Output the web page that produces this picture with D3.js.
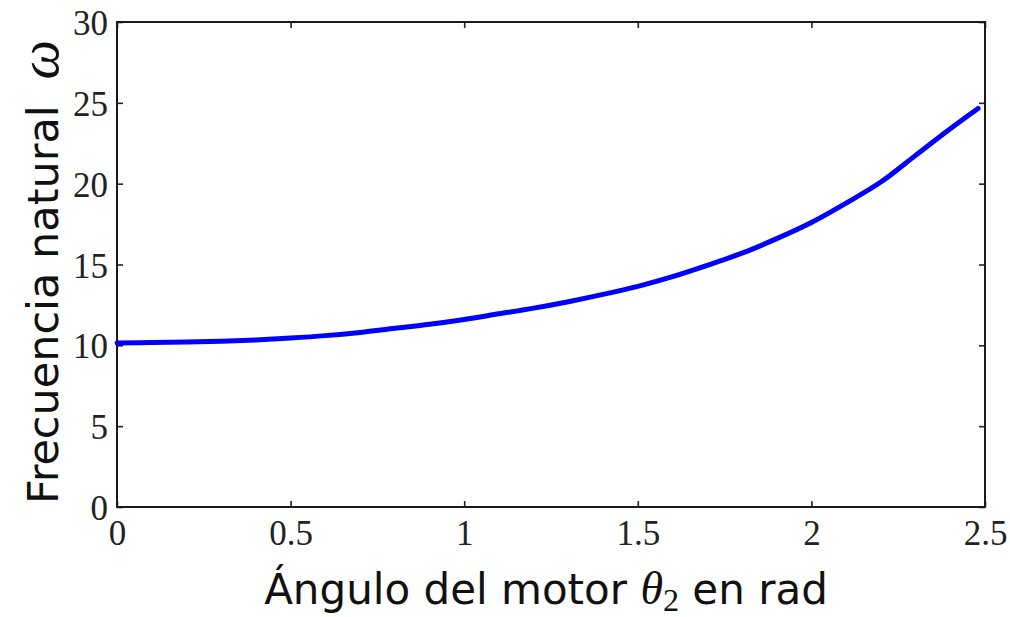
<!DOCTYPE html>
<html>
<head>
<meta charset="utf-8">
<script src="https://cdn.jsdelivr.net/npm/d3@7"></script>
<style>
  html, body { margin: 0; padding: 0; background: #fff; }
  svg { display: block; }
  .tick text { font-family: "Liberation Serif", "DejaVu Serif", serif; fill: #222; }
</style>
</head>
<body>
<svg id="chart" width="1010" height="617"></svg>
<script>
// Motor angle θ2 (rad) and natural frequency ω along the sweep
const angle = [0, 0.1, 0.2, 0.3, 0.4, 0.5, 0.6, 0.7, 0.8, 0.9, 1.0, 1.1, 1.2, 1.3, 1.4, 1.5, 1.6, 1.7, 1.8, 1.9, 2.0, 2.1, 2.2, 2.3, 2.4, 2.48];
const omega = [10.15, 10.17, 10.2, 10.25, 10.33, 10.45, 10.6, 10.8, 11.05, 11.3, 11.6, 11.95, 12.3, 12.7, 13.15, 13.65, 14.25, 14.95, 15.7, 16.6, 17.6, 18.8, 20.1, 21.75, 23.4, 24.65];

const xTicks = [0, 0.5, 1, 1.5, 2, 2.5];
const xTickLabels = ["0", "0.5", "1", "1.5", "2", "2.5"];
const yTicks = [0, 5, 10, 15, 20, 25, 30];

const svg = d3.select("#chart");
const plot = { left: 117, right: 985, top: 22, bottom: 507 };

const x = d3.scaleLinear().domain([0, 2.5]).range([plot.left, plot.right]);
const y = d3.scaleLinear().domain([0, 30]).range([plot.bottom, plot.top]);

const tickFont = 35;

// Bottom axis with inward ticks
const gx = svg.append("g")
  .attr("transform", `translate(0,${plot.bottom})`)
  .call(d3.axisBottom(x).tickValues(xTicks).tickFormat((d, i) => xTickLabels[i])
    .tickSizeInner(-6).tickSizeOuter(0).tickPadding(13));
// Top axis ticks (no labels)
const gxt = svg.append("g")
  .attr("transform", `translate(0,${plot.top})`)
  .call(d3.axisTop(x).tickValues(xTicks).tickFormat("").tickSizeInner(-6).tickSizeOuter(0));
// Left axis with inward ticks
const gy = svg.append("g")
  .attr("transform", `translate(${plot.left},0)`)
  .call(d3.axisLeft(y).tickValues(yTicks).tickFormat(d3.format("d"))
    .tickSizeInner(-6).tickSizeOuter(0).tickPadding(9));
// Right axis ticks (no labels)
const gyr = svg.append("g")
  .attr("transform", `translate(${plot.right},0)`)
  .call(d3.axisRight(y).tickValues(yTicks).tickFormat("").tickSizeInner(-6).tickSizeOuter(0));

[gx, gxt, gy, gyr].forEach(g => {
  g.select(".domain").remove();
  g.selectAll(".tick line").attr("stroke", "#222").attr("stroke-width", 1.6);
  g.selectAll(".tick text").attr("font-size", tickFont);
});
gy.selectAll(".tick text").attr("dy", "0.36em");

// Box frame
svg.append("rect")
  .attr("x", plot.left).attr("y", plot.top)
  .attr("width", plot.right - plot.left).attr("height", plot.bottom - plot.top)
  .attr("fill", "none").attr("stroke", "#1a1a1a").attr("stroke-width", 2);

// Natural frequency curve
const line = d3.line().x((d, i) => x(angle[i])).y(d => y(d)).curve(d3.curveMonotoneX);
svg.append("path")
  .datum(omega)
  .attr("d", line)
  .attr("fill", "none")
  .attr("stroke", "#0000ff")
  .attr("stroke-width", 5)
  .attr("stroke-linecap", "round");

// Axis titles
const sans = "'DejaVu Sans', Verdana, sans-serif";
const serif = "'Liberation Serif', 'DejaVu Serif', serif";

const xt = svg.append("text")
  .attr("x", 546)
  .attr("y", 604)
  .attr("text-anchor", "middle")
  .attr("font-family", sans)
  .attr("font-size", 42)
  .attr("fill", "#111");
xt.append("tspan").text("Ángulo del motor ");
xt.append("tspan").attr("font-family", serif).attr("font-style", "italic").attr("font-size", 46).text("θ");
xt.append("tspan").attr("font-family", serif).attr("font-size", 32).attr("dy", 7).text("2");
xt.append("tspan").attr("dy", -7).text(" en rad");

const yt = svg.append("text")
  .attr("transform", `translate(58,272) rotate(-90)`)
  .attr("text-anchor", "middle")
  .attr("font-family", sans)
  .attr("font-size", 43)
  .attr("fill", "#111")
  .attr("xml:space", "preserve");
yt.append("tspan").text("Frecuencia natural ");
yt.append("tspan").attr("font-family", serif).attr("font-style", "italic").attr("font-size", 56).attr("dx", 12).text("ω");
</script>
</body>
</html>
